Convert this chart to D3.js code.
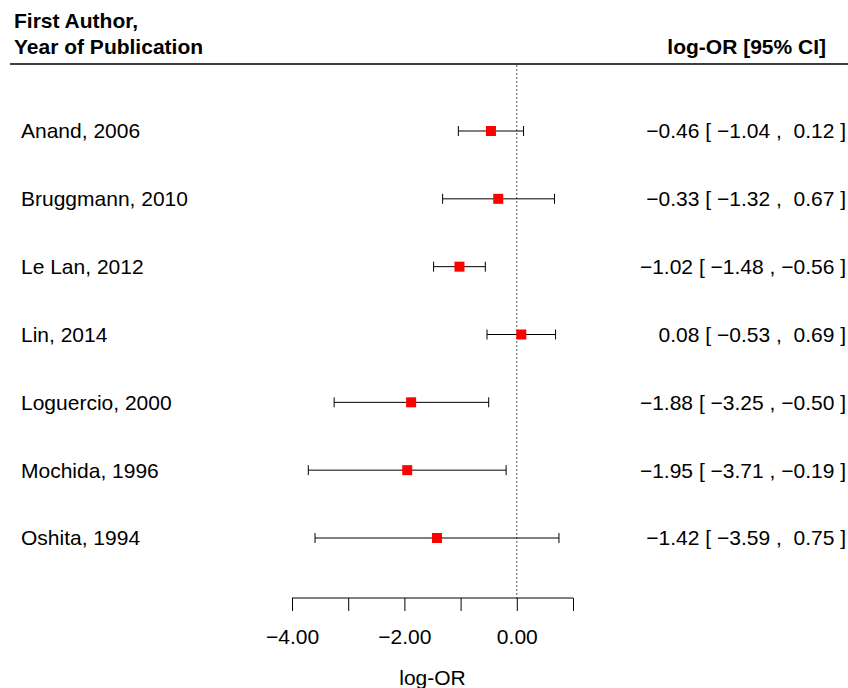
<!DOCTYPE html>
<html>
<head>
<meta charset="utf-8">
<script src="https://cdn.jsdelivr.net/npm/d3@7"></script>
<style>
  body { margin: 0; background: #fff; }
  text { font-family: "Liberation Sans", Arial, sans-serif; fill: #000; }
</style>
</head>
<body>
<script>
// study rows, top to bottom
var studies = ["Anand, 2006", "Bruggmann, 2010", "Le Lan, 2012", "Lin, 2014",
               "Loguercio, 2000", "Mochida, 1996", "Oshita, 1994"];
var logOR = [-0.46, -0.33, -1.02, 0.08, -1.88, -1.95, -1.42];
var ciLower = [-1.04, -1.32, -1.48, -0.53, -3.25, -3.71, -3.59];
var ciUpper = [0.12, 0.67, -0.56, 0.69, -0.50, -0.19, 0.75];
var tickValues = [-4, -3, -2, -1, 0, 1];
var tickLabels = ["\u22124.00", "", "\u22122.00", "", "0.00", ""];

var rows = studies.map(function (s, i) {
    return { name: s, est: logOR[i], lo: ciLower[i], hi: ciUpper[i] };
});

var width = 848, height = 688;
var fs = 21;

var svg = d3.select("body")
    .append("svg")
    .attr("width", width)
    .attr("height", height);

var x = d3.scaleLinear().domain([-4, 1]).range([292, 573]);
var y = d3.scalePoint().domain(studies).range([131, 538]);

// R-style padded number: minus sign or a space in front
function fmt(v) {
    return (v < 0 ? "\u2212" : " ") + Math.abs(v).toFixed(2);
}

// header
svg.append("text").attr("x", 14).attr("y", 28)
    .attr("font-size", fs).attr("font-weight", "bold").text("First Author,");
svg.append("text").attr("x", 14).attr("y", 54)
    .attr("font-size", fs).attr("font-weight", "bold").text("Year of Publication");
svg.append("text").attr("x", 826).attr("y", 54).attr("text-anchor", "end")
    .attr("font-size", fs).attr("font-weight", "bold").text("log-OR [95% CI]");
svg.append("line").attr("x1", 10).attr("x2", 848).attr("y1", 64).attr("y2", 64)
    .attr("stroke", "#000").attr("stroke-width", 1.4);

// reference line at 0
svg.append("line")
    .attr("x1", x(0)).attr("x2", x(0)).attr("y1", 65).attr("y2", 598)
    .attr("stroke", "#555").attr("stroke-width", 1).attr("stroke-dasharray", "2,2");

// x axis
var axis = d3.axisBottom(x).tickValues(tickValues).tickSize(13)
    .tickFormat(function (d, i) { return tickLabels[i]; });
var ax = svg.append("g").attr("transform", "translate(0,598)").call(axis);
ax.select(".domain").attr("d", "M" + x(-4) + ",0H" + x(1)).attr("stroke", "#000");
ax.selectAll(".tick line").attr("stroke", "#000");
ax.selectAll(".tick text").attr("font-size", fs)
    .attr("font-family", "Liberation Sans, Arial, sans-serif")
    .attr("fill", "#000").attr("y", 46).attr("dy", 0);
svg.append("text").attr("x", x(-1.5)).attr("y", 685).attr("text-anchor", "middle")
    .attr("font-size", fs).text("log-OR");

var g = svg.selectAll(".row").data(rows).enter().append("g")
    .attr("transform", function (d) { return "translate(0," + y(d.name) + ")"; });

// CI lines and caps
g.append("line")
    .attr("x1", function (d) { return x(d.lo); })
    .attr("x2", function (d) { return x(d.hi); })
    .attr("stroke", "#000").attr("stroke-width", 1);
g.append("line")
    .attr("x1", function (d) { return x(d.lo); })
    .attr("x2", function (d) { return x(d.lo); })
    .attr("y1", -5).attr("y2", 5).attr("stroke", "#000");
g.append("line")
    .attr("x1", function (d) { return x(d.hi); })
    .attr("x2", function (d) { return x(d.hi); })
    .attr("y1", -5).attr("y2", 5).attr("stroke", "#000");
g.append("rect")
    .attr("x", function (d) { return x(d.est) - 5; })
    .attr("y", -5).attr("width", 10).attr("height", 10)
    .attr("fill", "#ff0000");

// study labels
g.append("text").attr("x", 21).attr("dy", "0.35em").attr("font-size", fs)
    .text(function (d) { return d.name; });

// estimate [lower , upper], right aligned as one string
g.append("text").attr("x", 846).attr("dy", "0.35em").attr("font-size", fs)
    .attr("text-anchor", "end").style("white-space", "pre")
    .text(function (d) {
        return fmt(d.est).trim() + " [ " + fmt(d.lo) + " , " + fmt(d.hi) + " ]";
    });
</script>
</body>
</html>
